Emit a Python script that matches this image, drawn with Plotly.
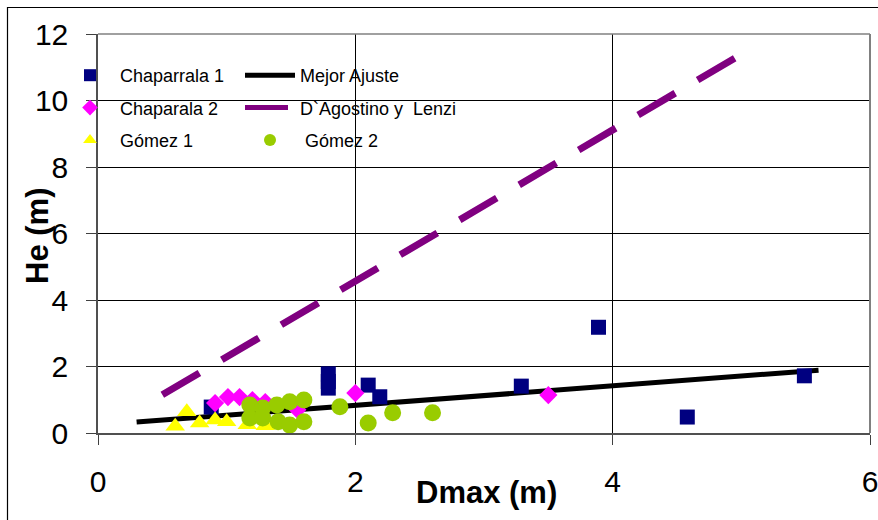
import plotly.graph_objects as go

# Chaparrala 1 measurements
chap1_x = [0.88, 1.79, 1.79, 1.79, 2.10, 2.19, 3.29, 3.89, 4.58, 5.49]
chap1_y = [0.78, 1.78, 1.55, 1.35, 1.44, 1.09, 1.41, 3.18, 0.48, 1.72]

# Chaparala 2 measurements
chap2_x = [0.91, 1.01, 1.10, 1.20, 1.30, 1.55, 2.00, 3.50]
chap2_y = [0.90, 1.08, 1.08, 0.99, 0.93, 0.70, 1.20, 1.14]

# Gómez 1 measurements
gomez1_x = [0.60, 0.69, 0.79, 0.91, 1.00, 1.16, 1.30]
gomez1_y = [0.20, 0.64, 0.30, 0.39, 0.34, 0.25, 0.22]

# Gómez 2 measurements
gomez2_x = [1.18, 1.28, 1.39, 1.49, 1.60, 1.18, 1.28, 1.40, 1.49, 1.60, 1.88, 2.10, 2.29, 2.60]
gomez2_y = [0.84, 0.75, 0.84, 0.94, 0.99, 0.45, 0.45, 0.34, 0.24, 0.34, 0.79, 0.30, 0.61, 0.61]

# Fitted relations
fit_x = [0.30, 5.60]
fit_y = [0.33, 1.89]
dagostino_x = [0.50, 4.96]
dagostino_y = [1.15, 11.30]

x_ticks = [0, 2, 4, 6]
y_ticks = [0, 2, 4, 6, 8, 10, 12]

FONT = "Liberation Sans, Arial, sans-serif"

fig = go.Figure()

fig.add_trace(go.Scatter(
    x=fit_x, y=fit_y, mode="lines", name="Mejor Ajuste",
    line=dict(color="black", width=5), legend="legend2", legendgroup="g1",
))
fig.add_trace(go.Scatter(
    x=dagostino_x, y=dagostino_y, mode="lines", name="D`Agostino y  Lenzi",
    line=dict(color="#800080", width=7, dash="43px,26px"),
    legend="legend2", legendgroup="g2",
))
fig.add_trace(go.Scatter(
    x=chap1_x, y=chap1_y, mode="markers", name="Chaparrala 1",
    marker=dict(symbol="square", size=15, color="#000080"),
    legend="legend", legendgroup="a1",
))
fig.add_trace(go.Scatter(
    x=chap2_x, y=chap2_y, mode="markers", name="Chaparala 2",
    marker=dict(symbol="diamond", size=14, color="#FF00FF"),
    legend="legend", legendgroup="a2",
))
fig.add_trace(go.Scatter(
    x=gomez1_x, y=gomez1_y, mode="markers", name="Gómez 1",
    marker=dict(symbol="triangle-up", size=17, color="#FFFF00"),
    legend="legend", legendgroup="a3",
))
fig.add_trace(go.Scatter(
    x=gomez2_x, y=gomez2_y, mode="markers", name=" Gómez 2",
    marker=dict(symbol="circle", size=17, color="#99CC00"),
    legend="legend2", legendgroup="g3",
))

L, R, T, B = 98, 8, 34, 87
W, H = 878, 520
pw, ph = W - L - R, H - T - B


def px_x(p):
    return (p - L) / pw


def px_y(p):
    return (H - B - p) / ph


legend_common = dict(
    bgcolor="rgba(0,0,0,0)", borderwidth=0, font=dict(family=FONT, size=18, color="black"),
    tracegroupgap=6, itemsizing="constant", itemwidth=50,
    xanchor="left", yanchor="top", orientation="v",
)

fig.update_layout(
    width=W, height=H,
    margin=dict(l=L, r=R, t=T, b=B, autoexpand=False),
    paper_bgcolor="white", plot_bgcolor="white",
    font=dict(family=FONT, color="black"),
    showlegend=True,
    legend=dict(x=px_x(60), y=px_y(57), **legend_common),
    legend2=dict(x=px_x(240), y=px_y(57), **legend_common),
    xaxis=dict(
        range=[0, 6], tickvals=x_ticks, ticks="outside", ticklen=10, tickcolor="#404040",
        tickfont=dict(family=FONT, size=30, color="black"), ticklabelstandoff=11,
        ticklabeloverflow="allow", automargin=False,
        showgrid=True, gridcolor="black", gridwidth=1,
        showline=True, linecolor="#505050", linewidth=2, mirror=False,
        zeroline=False, fixedrange=True,
    ),
    yaxis=dict(
        range=[0, 12], tickvals=y_ticks, ticks="outside", ticklen=10, tickcolor="#404040",
        tickfont=dict(family=FONT, size=30, color="black"), ticklabelstandoff=12,
        ticklabeloverflow="allow", automargin=False,
        showgrid=True, gridcolor="black", gridwidth=1,
        showline=True, linecolor="#505050", linewidth=1.5, mirror=False,
        zeroline=False, fixedrange=True,
    ),
    annotations=[
        dict(text="<b>Dmax (m)</b>", xref="paper", yref="paper", x=px_x(486), y=px_y(492),
             xanchor="center", yanchor="middle", showarrow=False,
             font=dict(family=FONT, size=31, color="black")),
        dict(text="<b>He (m)</b>", xref="paper", yref="paper", x=px_x(37), y=px_y(236),
             xanchor="center", yanchor="middle", textangle=-90, showarrow=False,
             font=dict(family=FONT, size=31, color="black")),
    ],
    shapes=[
        # plot frame on top and right
        dict(type="line", xref="paper", yref="paper", x0=0, x1=1, y0=1, y1=1,
             line=dict(color="#808080", width=1.5)),
        dict(type="line", xref="paper", yref="paper", x0=1, x1=1, y0=0, y1=1,
             line=dict(color="#808080", width=2)),
        # chart border
        dict(type="rect", xref="paper", yref="paper",
             x0=px_x(7.5), x1=px_x(884), y0=px_y(7.5), y1=px_y(530),
             line=dict(color="black", width=1.2), fillcolor="rgba(0,0,0,0)", layer="below"),
    ],
)

fig.write_html("out.html")
